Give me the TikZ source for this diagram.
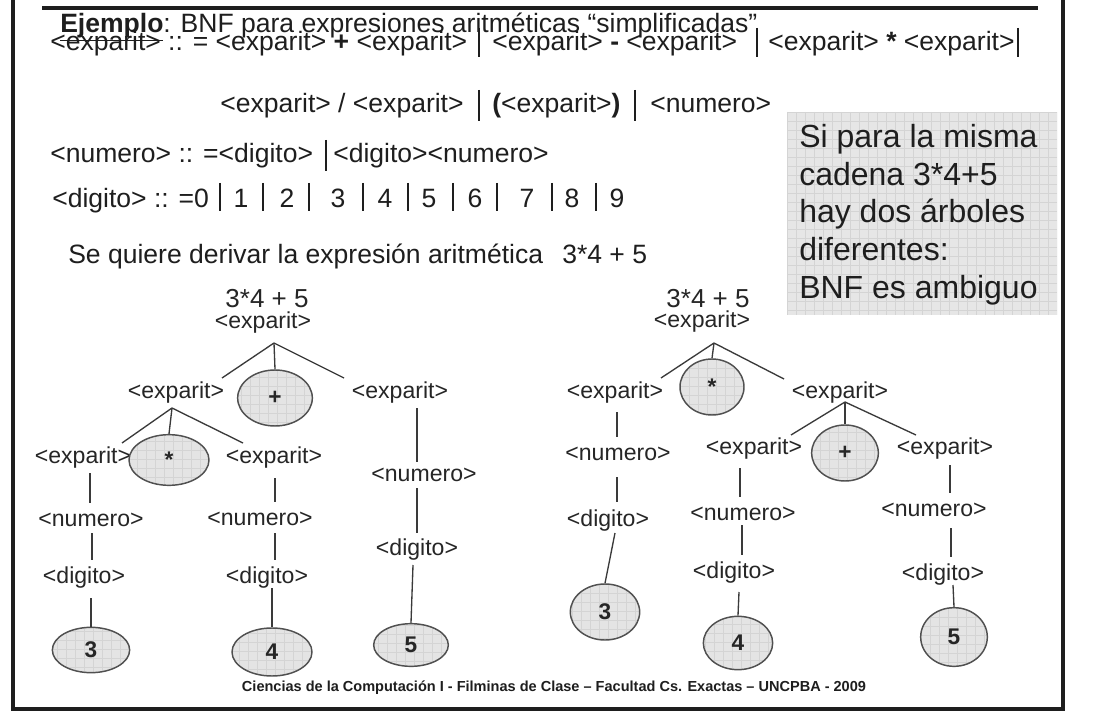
\documentclass[tikz,border=0pt]{standalone}
\usepackage{fontspec}
\setmainfont{Liberation Sans}
\usetikzlibrary{shapes.geometric}
\definecolor{ink}{HTML}{1E1E1E}
\definecolor{treeink}{HTML}{262626}
\definecolor{linec}{HTML}{3A3A3A}
\definecolor{ellfill}{HTML}{E4E4E4}
\definecolor{ellline}{HTML}{505050}
\definecolor{boxfill}{HTML}{E6E6E6}
\definecolor{boxgrid}{HTML}{D4D4D4}
\tikzset{
  bnf/.style={font=\fontsize{19.9}{23}\selectfont, text=ink, anchor=base west, inner sep=0pt},
  tnode/.style={font=\fontsize{17.3}{20}\selectfont, text=treeink, anchor=base, inner sep=0pt},
  ttitle/.style={font=\fontsize{19.5}{22}\selectfont, text=treeink, anchor=base, inner sep=0pt},
  leaf/.style={ellipse, draw=ellline, line width=1.1pt, fill=ellfill, inner sep=0pt,
     font=\fontsize{17}{19}\selectfont\bfseries, text=treeink,
     path picture={\draw[boxgrid, line width=0.3pt, step=6.75pt]
        (path picture bounding box.south west) grid (path picture bounding box.north east);}},
  edge/.style={draw=linec, line width=1pt},
  bar/.style={draw=ink, line width=0.9pt},
  boxtxt/.style={font=\fontsize{24}{28}\selectfont, text=ink, anchor=base west, inner sep=0pt},
}
\begin{document}
\begin{tikzpicture}[x=0.75pt,y=-0.75pt]
\useasboundingbox (0,0) rectangle (1099,720);
\fill[white] (0,0) rectangle (1099,720);
% frame
\draw[line width=2.3pt, draw=ink] (13,-5) -- (13,709) -- (1063,709) -- (1063,-5);
\draw[line width=3pt, draw=ink] (42,8) -- (1038,8);

% ---------- BNF text ----------
\node[bnf] (l1) at (60,33) {\textbf{\underline{Ejemplo}}: BNF para expresiones aritméticas “simplificadas”};
\node[bnf] (l2a) at (50,51) {<exparit> :: = <exparit> \textbf{+} <exparit>};
\node[bnf] (l2b) at (492,51) {<exparit> \textbf{-} <exparit>};
\node[bnf] (l2c) at (768,51) {<exparit> \textbf{*} <exparit>};
\coordinate (b21t) at (479,28); \coordinate (b21b) at (479,57);
\coordinate (b22t) at (757,28); \coordinate (b22b) at (757,57);
\coordinate (b23t) at (1018,28); \coordinate (b23b) at (1018,57);
\draw[bar] (b21t) -- (b21b);
\draw[bar] (b22t) -- (b22b);
\draw[bar] (b23t) -- (b23b);

\node[bnf] (l3a) at (220,113) {<exparit> / <exparit>};
\node[bnf] (l3b) at (492,113) {\textbf{(}<exparit>\textbf{)}};
\node[bnf] (l3c) at (650,113) {<numero>};
\coordinate (b31t) at (479,90); \coordinate (b31b) at (479,121);
\coordinate (b32t) at (635,90); \coordinate (b32b) at (635,121);
\draw[bar] (b31t) -- (b31b);
\draw[bar] (b32t) -- (b32b);

\node[bnf] (l4a) at (50,163) {<numero> :: =<digito>};
\node[bnf] (l4b) at (333,163) {<digito><numero>};
\coordinate (b41t) at (326,140); \coordinate (b41b) at (326,171);
\draw[bar] (b41t) -- (b41b);

\node[bnf] (l5a) at (52,208) {<digito> :: =0};
\foreach \d/\x in {1/241,2/287,3/338,4/385,5/429,6/475,7/527,8/572,9/617}{
  \node[bnf, anchor=base] (dg\d) at (\x,208) {\d};
}
\foreach \x [count=\i] in {220,263,309,363,408,453,497,552,596}{
  \coordinate (bd\i t) at (\x,183); \coordinate (bd\i b) at (\x,211);
  \draw[bar] (bd\i t) -- (bd\i b);
}

\node[bnf] (l6a) at (68,263) {Se quiere derivar la expresión aritmética};
\node[bnf] (l6b) at (562,263) {3*4 + 5};

% ---------- gray box ----------
\fill[boxfill] (787,112) rectangle (1057,315);
\begin{scope}
\clip (787,112) rectangle (1057,315);
\foreach \x in {787,796,...,1060} { \draw[boxgrid, line width=0.3pt] (\x,112) -- (\x,315); }
\foreach \y in {112,121,...,318} { \draw[boxgrid, line width=0.3pt] (787,\y) -- (1057,\y); }
\end{scope}
\node[boxtxt] (s1) at (799,148) {Si para la misma};
\node[boxtxt] (s2) at (799,186) {cadena 3*4+5};
\node[boxtxt] (s3) at (799,223) {hay dos árboles};
\node[boxtxt] (s4) at (799,261) {diferentes:};
\node[boxtxt] (s5) at (799,298) {BNF es ambiguo};

% ---------- tree 1 ----------
\node[ttitle] (t1) at (267,307) {3*4 + 5};
\node[tnode] (r1) at (263,328) {<exparit>};
\node[tnode] (a1) at (176,398) {<exparit>};
\node[leaf, minimum width=56, minimum height=42] (p1) at (275,398) {+};
\node[tnode] (b1) at (400,398) {<exparit>};
\node[tnode] (a11) at (83,463) {<exparit>};
\node[leaf, minimum width=60, minimum height=38] (m1) at (169,460) {*};
\node[tnode] (a12) at (274,463) {<exparit>};
\node[tnode] (n11) at (91,526) {<numero>};
\node[tnode] (d11) at (84,583) {<digito>};
\node[leaf, minimum width=58, minimum height=34] (e3) at (91,650) {3};
\node[tnode] (n12) at (260,525) {<numero>};
\node[tnode] (d12) at (267,583) {<digito>};
\node[leaf, minimum width=60, minimum height=36] (e4) at (272,652) {4};
\node[tnode] (n13) at (424,481) {<numero>};
\node[tnode] (d13) at (417,555) {<digito>};
\node[leaf, minimum width=56, minimum height=32] (e5) at (411,645) {5};

\coordinate (j1) at (274,343);
\coordinate (j1a) at (222,378);
\coordinate (j1c) at (344,378);
\draw[edge] (j1) -- (j1a);
\draw[edge] (j1) -- (p1.north);
\draw[edge] (j1) -- (j1c);
\coordinate (j2) at (172,408);
\coordinate (j2a) at (122,443);
\coordinate (j2c) at (243,443);
\draw[edge] (j2) -- (j2a);
\draw[edge] (j2) -- (m1.north);
\draw[edge] (j2) -- (j2c);
\coordinate (u1) at (90,473); \coordinate (u2) at (90,503);
\coordinate (u3) at (92,533); \coordinate (u4) at (92,560);
\coordinate (u5) at (91,598);
\draw[edge] (u1) -- (u2);
\draw[edge] (u3) -- (u4);
\draw[edge] (u5) -- (e3.north);
\coordinate (v1) at (275,478); \coordinate (v2) at (275,502);
\coordinate (v3) at (275,533); \coordinate (v4) at (275,560);
\coordinate (v5) at (272,588);
\draw[edge] (v1) -- (v2);
\draw[edge] (v3) -- (v4);
\draw[edge] (v5) -- (e4.north);
\coordinate (w1) at (417,408); \coordinate (w2) at (417,462);
\coordinate (w3) at (417,488); \coordinate (w4) at (417,533);
\coordinate (w5) at (413,565);
\draw[edge] (w1) -- (w2);
\draw[edge] (w3) -- (w4);
\draw[edge] (w5) -- (e5.north);

% ---------- tree 2 ----------
\node[ttitle] (t2) at (708,307) {3*4 + 5};
\node[tnode] (r2) at (702,327) {<exparit>};
\node[tnode] (a2) at (615,398) {<exparit>};
\node[leaf, minimum width=48, minimum height=42] (m2) at (712,387) {*};
\node[tnode] (b2) at (840,398) {<exparit>};
\node[tnode] (n21) at (618,460) {<numero>};
\node[tnode] (d21) at (608,526) {<digito>};
\node[leaf, minimum width=52, minimum height=42] (f3) at (605,612) {3};
\node[tnode] (b21) at (754,454) {<exparit>};
\node[leaf, minimum width=50, minimum height=42] (p2) at (845,453) {+};
\node[tnode] (b22) at (945,454) {<exparit>};
\node[tnode] (n22) at (743,520) {<numero>};
\node[tnode] (d22) at (734,578) {<digito>};
\node[leaf, minimum width=52, minimum height=40] (f4) at (738,643) {4};
\node[tnode] (n23) at (934,516) {<numero>};
\node[tnode] (d23) at (943,580) {<digito>};
\node[leaf, minimum width=50, minimum height=44] (f5) at (954,637) {5};

\coordinate (k1) at (714,343);
\coordinate (k1a) at (661,378);
\coordinate (k1c) at (784,379);
\draw[edge] (k1) -- (k1a);
\draw[edge] (k1) -- (m2.north);
\draw[edge] (k1) -- (k1c);
\coordinate (k2) at (845,402);
\coordinate (k2a) at (791,435);
\coordinate (k2c) at (916,435);
\draw[edge] (k2) -- (k2a);
\draw[edge] (k2) -- (p2.north);
\draw[edge] (k2) -- (k2c);
\coordinate (x1) at (617,412); \coordinate (x2) at (617,437);
\coordinate (x3) at (617,477); \coordinate (x4) at (617,502);
\coordinate (x5) at (615,533);
\draw[edge] (x1) -- (x2);
\draw[edge] (x3) -- (x4);
\draw[edge] (x5) -- (f3.north);
\coordinate (y1) at (740,468); \coordinate (y2) at (740,497);
\coordinate (y3) at (742,525); \coordinate (y4) at (742,555);
\coordinate (y5) at (739,592);
\draw[edge] (y1) -- (y2);
\draw[edge] (y3) -- (y4);
\draw[edge] (y5) -- (f4.north);
\coordinate (z1) at (950,465); \coordinate (z2) at (950,493);
\coordinate (z3) at (951,528); \coordinate (z4) at (951,557);
\coordinate (z5) at (953,585);
\draw[edge] (z1) -- (z2);
\draw[edge] (z3) -- (z4);
\draw[edge] (z5) -- (f5.north);

% ---------- footer ----------
\node[font=\fontsize{10.9}{13}\selectfont\bfseries, text=ink, inner sep=0pt] (foot) at (554,688)
  {Ciencias de la Computación I - Filminas de Clase – Facultad Cs. Exactas – UNCPBA - 2009};
\end{tikzpicture}
\end{document}
